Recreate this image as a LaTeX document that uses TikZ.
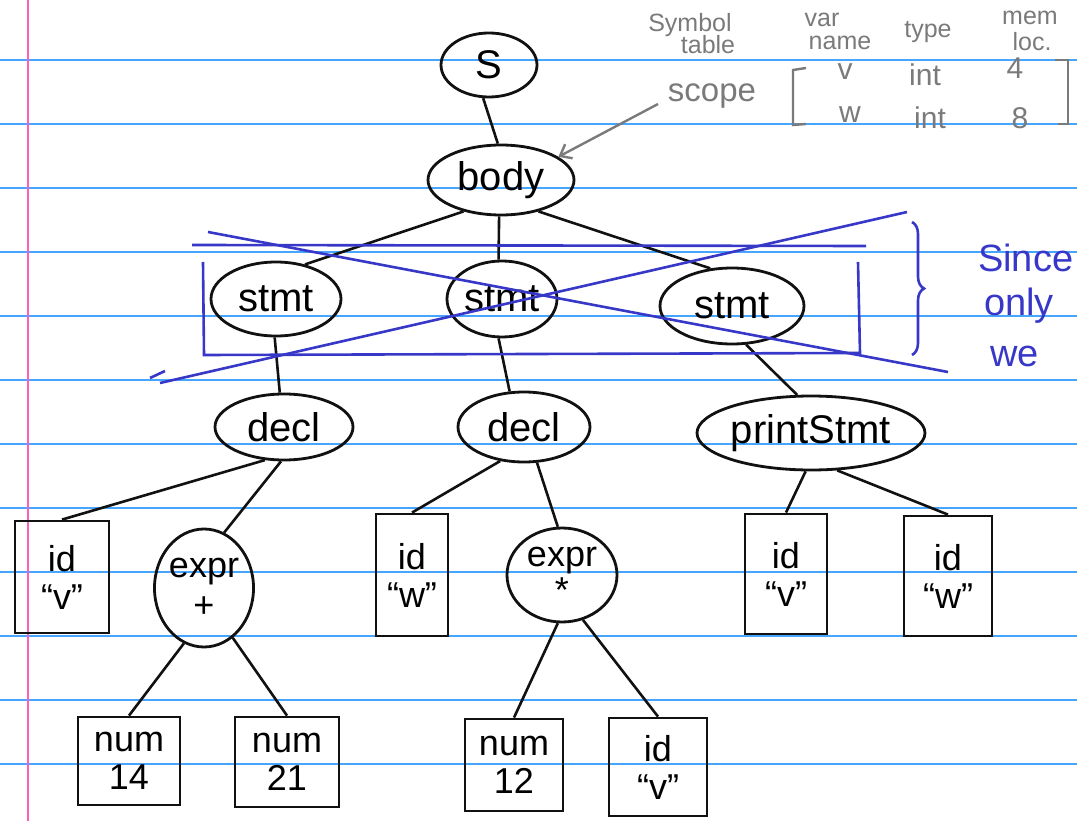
\documentclass[tikz,border=0pt]{standalone}
\usepackage{fontspec}
\setmainfont{Liberation Sans}
\usetikzlibrary{shapes.geometric,arrows.meta,decorations.pathreplacing}
\definecolor{rule}{HTML}{45A5FF}
\definecolor{margin}{HTML}{FF5FB8}
\definecolor{ink}{HTML}{111111}
\definecolor{pen}{HTML}{3838C8}
\definecolor{pencil}{HTML}{7A7A7A}
\begin{document}
\begin{tikzpicture}[x=1pt,y=-1pt,
  oval/.style={ellipse,draw=ink,line width=2.8pt,inner sep=0pt,font=\fontsize{40}{40}\selectfont},
  tbox/.style={rectangle,draw=ink,line width=2.8pt,inner sep=0pt,align=center,font=\fontsize{36}{38}\selectfont},
  edge/.style={draw=ink,line width=2.6pt},
  gray/.style={text=pencil,font=\fontsize{25}{25}\selectfont,inner sep=0pt},
  grayb/.style={text=pencil,font=\fontsize{30}{30}\selectfont,inner sep=0pt},
  blue/.style={text=pen,font=\fontsize{38}{38}\selectfont,inner sep=0pt,anchor=base west}]
\useasboundingbox (0,0) rectangle (1077,821);
\clip (0,0) rectangle (1077,821);
% paper
\foreach \k in {0,...,11}{\draw[rule,line width=1.5pt] (0,60+64*\k) -- (1077,60+64*\k);}
\draw[margin,line width=2.2pt] (28,0) -- (28,821);
% nodes
\node[oval,minimum width=96pt,minimum height=64pt] (S) at (489,65) {S};
\node[oval,minimum width=146pt,minimum height=70pt] (body) at (501,180) {body};
\node[oval,minimum width=130pt,minimum height=74pt] (st1) at (276,299) {stmt};
\node[oval,minimum width=110pt,minimum height=76pt] (st2) at (502,299) {stmt};
\node[oval,minimum width=144pt,minimum height=76pt] (st3) at (732,306) {stmt};
\node[oval,minimum width=138pt,minimum height=66pt] (d1) at (284,427) {decl};
\node[oval,minimum width=132pt,minimum height=70pt] (d2) at (524,427) {decl};
\node[oval,minimum width=228pt,minimum height=74pt] (ps) at (811,433) {printStmt};
\node[tbox,minimum width=94pt,minimum height=112pt] (idv1) at (62,577) {id\\``v''};
\node[oval,minimum width=78pt,minimum height=118pt,align=center,font=\fontsize{36}{40}\selectfont] (ex1) at (204,588) {expr\\+};
\node[tbox,minimum width=72pt,minimum height=122pt] (idw1) at (412,575) {id\\``w''};
\node[oval,minimum width=110pt,minimum height=94pt,align=center,font=\fontsize{36}{36}\selectfont] (ex2) at (562,575) {expr\\*};
\node[tbox,minimum width=82pt,minimum height=120pt] (idv2) at (786,574) {id\\``v''};
\node[tbox,minimum width=88pt,minimum height=120pt] (idw2) at (948,576) {id\\``w''};
\node[tbox,minimum width=102pt,minimum height=88pt] (n14) at (129,761) {num\\14};
\node[tbox,minimum width=104pt,minimum height=90pt] (n21) at (287,762) {num\\21};
\node[tbox,minimum width=98pt,minimum height=92pt] (n12) at (514,765) {num\\12};
\node[tbox,minimum width=98pt,minimum height=98pt] (idv3) at (658,767) {id\\``v''};
% edges
\draw[edge] (S.260) -- (body.95);
\draw[edge] (body.220) -- (st1.50);
\draw[edge] (body.267) -- (st2.95);
\draw[edge] (body.320) -- (st3.120);
\draw[edge] (st1.268) -- (d1.97);
\draw[edge] (st2.265) -- (d2.112);
\draw[edge] (st3.290) -- (ps.110);
\draw[edge] (d1.240) -- (idv1.north);
\draw[edge] (d1.265) -- (ex1.70);
\draw[edge] (d2.235) -- (idw1.north);
\draw[edge] (d2.290) -- (ex2.95);
\draw[edge] (ps.262) -- (idv2.north);
\draw[edge] (ps.305) -- (idw2.north);
\draw[edge] (ex1.250) -- (n14.north);
\draw[edge] (ex1.300) -- (n21.north);
\draw[edge] (ex2.265) -- (n12.north);
\draw[edge] (ex2.295) -- (idv3.north);
% blue annotation
\begin{scope}[draw=pen,line width=2.6pt]
\draw (192,245) -- (866,246);
\draw (203,262) -- (204,355) -- (860,353) -- (858,262);
\draw (208,232) -- (948,372);
\draw (160,383) -- (907,212);
\draw (150,378) -- (165,371);
\draw[decorate,decoration={brace,amplitude=12pt}] (912,222) -- (912,355);
\end{scope}
\node[blue] (t1) at (978,272) {Since};
\node[blue] (t2) at (984,316) {only};
\node[blue] (t3) at (990,366) {we};
% symbol table (pencil)
\node[gray] (sym1) at (690,25) {Symbol};
\node[gray] (sym2) at (708,45) {table};
\node[gray] (var) at (822,20) {var};
\node[gray] (vname) at (840,43) {name};
\node[gray] (vtype) at (928,32) {type};
\node[gray] (mem) at (1030,18) {mem};
\node[gray] (loc) at (1032,42) {loc.};
\node[grayb,font=\fontsize{33}{33}\selectfont] (scope) at (712,96) {scope};
\node[grayb] (r1a) at (845,72) {v};
\node[grayb] (r1b) at (925,75) {int};
\node[grayb] (r1c) at (1015,68) {4};
\node[grayb] (r2a) at (850,115) {w};
\node[grayb] (r2b) at (930,118) {int};
\node[grayb] (r2c) at (1020,118) {8};
\draw[pencil,line width=2.4pt] (806,68) -- (793,70) -- (793,125) -- (806,124);
\draw[pencil,line width=2.4pt] (1055,60) -- (1068,60) -- (1068,124) -- (1058,124);
\coordinate (scopetail) at (658,104);
\draw[pencil,line width=2.4pt,-{Straight Barb[length=10pt,width=16pt]}] (scopetail) -- (body.22);
\end{tikzpicture}
\end{document}
